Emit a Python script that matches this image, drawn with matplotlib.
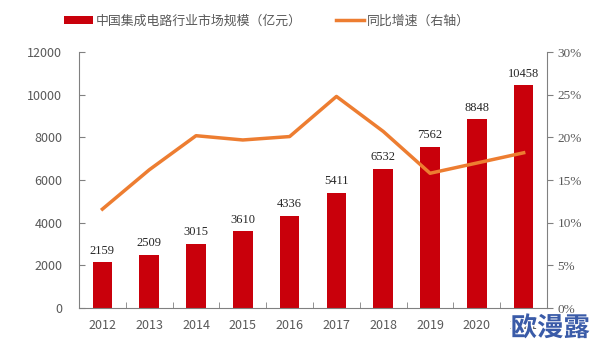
import matplotlib.pyplot as plt
import matplotlib.patheffects as pe
import numpy as np

plt.rcParams['font.family'] = ['Noto Sans CJK SC', 'DejaVu Sans']

# 中国集成电路行业市场规模（亿元）及同比增速
years = ['2012', '2013', '2014', '2015', '2016', '2017', '2018', '2019', '2020', '2021']
market_size = [2159, 2509, 3015, 3610, 4336, 5411, 6532, 7562, 8848, 10458]
growth = [11.6, 16.2, 20.2, 19.7, 20.1, 24.8, 20.7, 15.8, 17.0, 18.2]

bar_color = '#C9000B'
line_color = '#ED7D31'
axis_color = '#808080'
text_color = '#595959'

fig = plt.figure(figsize=(5.94, 3.47), dpi=100)
ax = fig.add_axes([0.133, 0.112, 0.788, 0.738])
x = np.arange(len(years))

bars = ax.bar(x, market_size, width=0.42, color=bar_color, zorder=2,
              label='中国集成电路行业市场规模（亿元）')
for xi, v in zip(x, market_size):
    ax.text(xi, v + 250, str(v), ha='center', va='bottom', fontsize=9,
            color='#262626', family=['Liberation Serif'])

ax.set_xlim(-0.5, len(years) - 0.5)
ax.set_ylim(0, 12000)
ax.set_yticks(range(0, 12001, 2000))
ax.set_xticks(x)
ax.set_xticklabels(years)
ax.set_xticks(np.arange(-0.5, len(years), 1), minor=True)
ax.tick_params(axis='x', which='major', length=0, pad=8, labelsize=9, labelcolor=text_color)
ax.tick_params(axis='x', which='minor', direction='in', length=4, color=axis_color)
ax.tick_params(axis='y', direction='in', length=4, color=axis_color, labelsize=9,
               labelcolor=text_color, pad=12)
for s in ['top', 'right']:
    ax.spines[s].set_visible(False)
for s in ['left', 'bottom']:
    ax.spines[s].set_color(axis_color)

ax2 = ax.twinx()
ax2.plot(x, growth, color=line_color, linewidth=2.5, zorder=3, label='同比增速（右轴）')
ax2.set_ylim(0, 30)
ax2.set_yticks(range(0, 31, 5))
ax2.set_yticklabels([f'{v}%' for v in range(0, 31, 5)], family=['Liberation Serif'])
ax2.tick_params(axis='y', direction='out', length=4, color=axis_color, labelsize=9.5,
                labelcolor=text_color)
for s in ['top', 'left', 'bottom']:
    ax2.spines[s].set_visible(False)
ax2.spines['right'].set_color(axis_color)

handles = [bars, ax2.get_lines()[0]]
fig.legend(handles, [h.get_label() for h in handles], loc='center', ncol=2,
           bbox_to_anchor=(0.45, 0.94), frameon=False, fontsize=9.3,
           labelcolor=text_color, handlelength=2.2, handleheight=0.55,
           columnspacing=2.6, handletextpad=0.25)

fig.text(0.993, 0.015, '欧漫露', ha='right', va='bottom', fontsize=19, fontweight='bold',
         color='#3A5BA8', family=['Noto Sans CJK SC'],
         path_effects=[pe.withStroke(linewidth=2, foreground='white')])

fig.savefig('out.png', dpi=100)
